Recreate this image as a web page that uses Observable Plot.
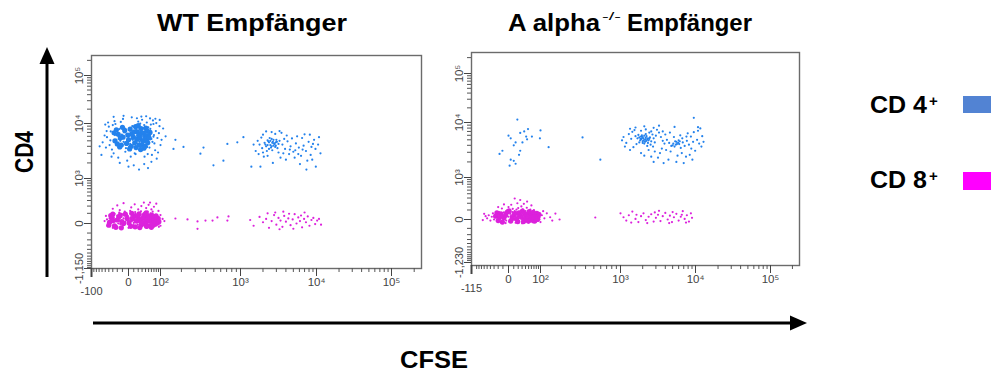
<!DOCTYPE html>
<html><head><meta charset="utf-8">
<script src="https://cdn.jsdelivr.net/npm/d3@7"></script>
<script src="https://cdn.jsdelivr.net/npm/@observablehq/plot@0.6"></script>
<style>
body{margin:0;background:#fff}
#wrap{position:relative;width:991px;height:374px;overflow:hidden;background:#fff;font-family:"Liberation Sans",Arial,sans-serif}
.panel{position:absolute;top:0}
#deco{position:absolute;left:0;top:0}
</style></head><body>
<div id="wrap">
<svg id="deco" width="991" height="374"></svg>
<div id="left" class="panel" style="left:0px"></div>
<div id="right" class="panel" style="left:440px"></div>
</div>
<script>
// ---------- text ----------
const titleWT = "WT Empfänger";
const titleKO = ["A alpha", "-/-", "Empfänger"];
const axisLabelY = "CD4";
const axisLabelX = "CFSE";
const legendLabels = ["CD 4", "CD 8"];
const legendColors = ["#5283D3", "#FF00FF"];
const dotColors = ["#2482EC", "#DC22DC"];

// ---------- ticks ----------
const xMajorTicks = [0, 100, 1000, 10000, 100000];
const xMajorLabels = ["0", "10²", "10³", "10⁴", "10⁵"];
const xMinorTicks = [-90,-80,-70,-60,-50,-40,-30,-20,-10,10,20,30,40,50,60,70,80,90,
  200,300,400,500,600,700,800,900,2000,3000,4000,5000,6000,7000,8000,9000,
  20000,30000,40000,50000,60000,70000,80000,90000,200000];
const yMajorTicks = [0, 1000, 10000, 100000];
const yMajorLabels = ["0", "10³", "10⁴", "10⁵"];
const yMinorTicks = [-1100,-1000,-900,-800,-700,-600,-500,-400,-300,-200,-100,
  100,200,300,400,500,600,700,800,900,2000,3000,4000,5000,6000,7000,8000,9000,
  20000,30000,40000,50000,60000,70000,80000,90000,200000];
const axisMinWT = [-100, -1150];
const axisMinLabelsWT = ["-100", "-1,150"];
const axisMinKO = [-115, -1230];
const axisMinLabelsKO = ["-115", "-1,230"];

// ---------- data: [CFSE, CD4] ----------
const cd4WT = [
[-22,5200],[-15,6100],[-8,4800],[0,5600],[5,7000],[12,5900],[18,4500],[25,6400],[32,5300],[40,6900],[48,5000],[55,6100],
[-20,7400],[-12,4100],[-3,6600],[8,5200],[15,7800],[22,5700],[28,4300],[35,6000],[44,7600],[52,4600],[-18,3900],[-6,8200],
[3,4400],[10,6300],[20,8600],[27,5000],[38,4900],[46,5600],[58,7200],[-25,6300],[-10,5600],[2,7600],[14,4000],[24,6900],
[30,7900],[42,4200],[50,6600],[60,5400],[-16,8000],[-4,3700],[6,6100],[16,5400],[26,3700],[34,8300],[45,3900],[-14,5000],
[-1,4600],[9,8800],[19,6700],[29,6100],[39,5700],[53,3800],[-21,4400],[-7,7000],[4,5300],[13,7200],[23,4800],[33,4600],
[43,6300],[56,8100],[-11,6400],[1,3900],[11,4700],[21,5100],[31,7000],[41,5100],[49,8600],[7,9000],
[-45,5800],[-38,4200],[-35,7300],[-30,9400],[-28,3000],[-33,2600],[-40,8800],[-48,3800],[-52,6200],[-42,10500],
[-26,11200],[-18,2500],[-9,12500],[-2,2200],[6,13500],[14,2900],[20,11000],[30,12000],[37,2600],[44,10500],
[55,12800],[62,2800],[68,9800],[72,4500],[78,7400],[85,5600],[92,6800],[100,4200],[110,8200],[88,3100],
[66,11600],[75,3400],[80,10200],[70,6300],[64,4800],[95,9000],[-36,5100],[-24,9800],[-13,10800],[-5,3200],
[12,3000],[25,10000],[36,9400],[47,2900],[58,9600],[68,5900],[-46,7400],[-32,3500],[4,2600],[17,12900],
[-58,4700],[-68,4000],[-28,13800],[10,1800],[22,1500],[0,1700],[-15,2000],[36,1900],[48,1600],[60,2100],
[82,2400],[-50,9600],[42,14200],[28,14000],[-8,14500],[76,12600],[104,5200],[120,6000],[-62,2800],[96,11900],
[166,5200],[156,3600],[213,3900],[378,3800],[347,2950],[495,1800],[644,2200],[714,4400],[922,4700],[1095,5800],
[2100,4600],[2300,5100],[2500,4200],[2700,4800],[2900,3900],[3200,4400],[2400,3600],[2200,4000],[2600,5400],[2800,4500],
[3000,5200],[2350,4900],[2550,3800],[2750,4100],[3100,3700],[2450,5600],[2650,3400],[2950,4700],[2250,3300],[3300,5000],
[1800,4300],[1950,3700],[1700,5000],[1600,3300],[1400,1700],[1850,1700],[2050,2600],[1750,2900],[1900,5700],[2000,6400],
[3600,4300],[3900,3600],[4200,4900],[4600,4000],[5000,3200],[5400,4500],[5900,3800],[6300,2700],[6800,4100],[7300,3300],
[7900,4800],[8400,2800],[9000,4400],[9700,3600],[10500,4300],[8800,2300],[7600,2200],[6100,1900],[5200,2500],[4400,2900],
[3800,5400],[4100,6200],[3500,6900],[3300,7400],[2900,6600],[2600,7100],[2200,7300],[5600,6000],[6500,5600],[7000,6500],
[8200,6400],[9300,5200],[4800,5500],[4000,2300],[3400,2500],[2700,2000],[2300,2700],[3700,3000],[5800,2900],[7400,1500],
[9800,1700],[6600,3500],[3200,3100],[8600,3900],[4500,3500],[5300,3400],[2000,3100],[1500,4300],[10800,5800],[11300,3000],
[2150,4300],[2400,4700],[2600,4000],[2850,4400],[2500,5000],[2750,5200],[2300,4200],[2950,4100],[2650,4600],[3050,4800]
];
const cd4WTDense = [
[-25,5000],[-18,6500],[-12,4200],[-6,7600],[0,5200],[6,6600],[12,4600],[18,7200],[24,5600],[30,4300],[36,6800],[42,5100],[48,6200],
[-22,7800],[-15,3900],[-9,5800],[-3,4500],[3,8000],[9,5800],[15,3800],[21,6200],[27,8200],[33,5000],[39,4000],[45,7500],[52,5600],
[-20,4400],[-10,8600],[-1,6300],[5,4000],[11,7200],[17,5300],[23,4200],[29,6900],[35,3700],[41,8300],[47,4600],[-14,5600],
[2,3600],[14,8800],[26,3500],[38,5900],[55,7000],[-27,6900],[20,9200]
];
const cd8WT = [
[-35,30],[-30,10],[-28,55],[-25,-15],[-22,40],[-20,75],[-18,0],[-15,25],[-12,60],[-10,-25],[-8,45],[-5,15],[-3,85],[0,35],
[2,-10],[4,55],[6,20],[8,70],[10,5],[12,40],[14,95],[16,-20],[18,30],[20,60],[22,10],[24,45],[26,80],[28,-5],[30,25],
[32,55],[34,15],[36,70],[38,-15],[40,40],[42,20],[44,60],[46,0],[48,35],[50,75],[52,10],[55,45],[58,-10],[60,30],[63,55],
[66,15],[70,40],[74,-5],[78,25],[82,50],[86,10],
[-33,60],[-27,-30],[-24,20],[-19,45],[-14,-5],[-11,90],[-7,5],[-4,50],[-1,70],[1,20],[3,-30],[5,90],[7,40],[9,-15],
[11,65],[13,15],[15,50],[17,80],[19,-10],[21,35],[23,100],[25,20],[27,55],[29,-25],[31,80],[33,40],[35,-5],[37,25],
[39,90],[41,5],[43,45],[45,-20],[47,65],[49,15],[51,50],[53,-30],[56,25],[59,70],[62,0],[65,35],[68,65],[72,15],[76,45],
[80,-15],[84,30],[90,20],[95,45],[-38,45],[-40,15],[-42,-10],[-45,35],
[-16,110],[-6,120],[3,130],[13,115],[27,125],[37,105],[47,120],[57,100],[-26,95],[-30,-40],[0,-40],[20,-38],[44,-42],
[62,-35],[-12,-38],
[-30,160],[-20,210],[-8,250],[5,180],[12,230],[20,150],[28,200],[35,260],[42,170],[50,220],[60,150],[70,190],[80,240],
[-15,140],[55,260],[65,120],[90,130],[100,80],[108,40],[-48,70],[-52,20],[115,20],[100,-20],[-44,-20],[92,-30],
[166,44],[240,35],[320,17],[320,-51],[399,25],[483,25],[550,55],[714,25],[735,65],
[1350,30],[1500,-20],[1800,60],[2000,10],[2200,40],[2400,-40],[2600,20],[2800,80],[3000,-10],[3200,50],[3400,25],
[3600,-30],[3800,70],[4000,15],[4300,45],[4600,-15],[4900,35],[5200,90],[5500,0],[5800,55],[6100,20],[6500,-35],
[6900,40],[7300,10],[7700,65],[8100,-20],[8600,30],[9100,50],[9600,-5],[10200,25],[10800,40],[11500,-10],[2900,110],
[3700,120],[4400,95],[2300,100],[7000,110],[5000,-50],[3300,-55],[6300,75]
];
const cd8WTDense = [
[-38,10],[-32,50],[-26,-20],[-20,30],[-14,80],[-8,0],[-2,45],[4,-25],[10,70],[16,20],[22,95],[28,-10],[34,55],[40,15],
[46,75],[52,-20],[58,40],[64,10],[70,60],[76,-5],[82,30],[88,45],
[-35,75],[-29,25],[-23,-35],[-17,60],[-11,15],[-5,90],[1,5],[7,40],[13,-30],[19,65],[25,35],[31,0],[37,85],[43,-25],
[49,50],[55,20],[61,80],[67,-15],[73,35],[79,70],[85,5],
[-40,-15],[-30,90],[-12,-40],[6,100],[24,-38],[42,105],[60,-35],[92,15]
];
const cd4KO = [
[18,11500],[25,6600],[36,7000],[48,7700],[42,5700],[0,5900],[4,5300],[10,4000],[14,4500],[25,3200],[22,2700],
[-11,3200],[-17,2800],[4,2200],[10,2100],[14,1850],[2,1700],[97,5300],[133,3700],[45,5100],[62,5700],[100,7300],
[31,4500],[368,5500],[594,2200],
[1700,5300],[1850,4900],[2000,5600],[2150,4600],[2300,5100],[1950,6000],[2100,4300],[2250,5800],[1800,4500],[2400,4900],
[2050,5300],[1900,5700],[2200,6300],[2350,4400],[1750,6100],[2500,5500],[2600,4700],[2150,5000],[2000,4700],[1880,5200],
[2700,6200],[2800,5300],[2450,6700],[2900,4500],[3000,5900],[2550,4100],[1650,4200],[1600,5800],[2300,3900],[2750,3800],
[1400,5200],[1300,6300],[1200,4400],[1100,5600],[1050,4900],[1500,3700],[1450,6900],[1350,3300],[1550,7400],[1900,7200],
[2200,7600],[2600,7000],[3100,7500],[3300,6700],[3500,5600],[3700,4800],[3900,4300],[4200,5000],[4500,4400],[4800,3900],
[5100,4300],[5400,4700],[5000,4000],[5300,3800],[5700,4200],[6000,4900],[6400,3600],[6800,4500],[7200,3900],[7700,4800],
[8200,4100],[8800,3500],[9300,4600],[9900,3200],[10500,5000],[11200,4300],[12000,3800],[4700,3100],[4100,3300],[3600,3500],
[3400,2900],[2900,3100],[2400,3300],[2100,2600],[2600,2500],[1900,2900],[3200,2400],[4400,2200],[5800,2600],[6600,2900],
[7500,2500],[8400,2700],[9100,2200],[7000,1900],[5600,2000],[3800,1900],[2800,2000],[8700,5700],[7900,6500],[9500,6800],
[10800,7200],[11600,7900],[6300,6000],[5200,5600],[4000,6200],[4600,6700],[3700,7000],[2800,8100],[1600,8200],[1350,7800],
[9500,12500],[10800,8300],[5300,8400],[3300,8800],[2100,8600],[1150,3800],[12300,5800],[12800,4600],[6700,5300],[7600,5700],
[1900,5100],[2050,4900],[2200,5400],[2100,5900],[1800,5500],[2350,5300],[2000,4400],[2250,4800],[1950,5300],[2450,5200],
[5600,4600],[5900,4400],[6200,4700],[5500,4100],[6100,4200]
];
const cd8KO = [
[-25,20],[-20,50],[-16,5],[-12,35],[-8,70],[-4,-10],[0,25],[3,55],[6,10],[9,40],[12,85],[15,-5],[18,30],[21,60],[24,15],
[27,45],[30,90],[33,0],[36,35],[39,65],[42,20],[45,50],[48,-15],[51,30],[54,70],[57,10],[60,40],[64,25],[68,55],[72,5],
[76,35],[80,15],[85,45],[90,20],[95,0],
[-22,-15],[-18,75],[-14,-25],[-10,15],[-6,50],[-2,95],[1,-20],[4,30],[7,75],[10,0],[13,50],[16,105],[19,-15],[22,40],
[25,80],[28,5],[31,55],[34,-25],[37,15],[40,85],[43,-5],[46,35],[49,75],[52,0],[55,45],[58,-20],[62,60],[66,10],[70,35],
[74,-10],[78,60],[83,30],[88,50],[93,25],
[-28,40],[-30,0],[-33,60],[-36,25],[-40,-10],[-45,40],[-50,10],[-55,30],[-60,55],[-65,-5],
[-12,120],[0,140],[8,115],[20,125],[32,110],[44,130],[56,105],[70,100],[-5,-35],[14,-32],[30,-38],[50,-30],[66,-28],
[5,175],[18,200],[25,260],[35,190],[12,290],[45,230],[-8,180],[60,165],[28,150],[-20,140],
[105,40],[115,10],[125,60],[140,20],[166,58],[189,0],[150,-10],[520,18],[100,-25],[110,85],
[1000,60],[1100,20],[1200,-10],[1300,40],[1450,80],[1600,5],[1750,-25],[1900,30],[2050,60],[2200,-5],[2400,25],
[2600,50],[2800,-20],[3000,15],[3200,45],[3450,-15],[3700,30],[4000,65],[4300,0],[4600,35],[4900,-25],[5200,20],
[5600,55],[6000,-10],[6400,25],[6800,85],[7200,5],[7700,40],[8200,-20],[8700,60],[9000,15],[1650,45],[2300,-35],
[3300,90],[5000,75],[6600,45],[7500,-30],[1400,-30],[2900,70],[4500,-35]
];
const cd8KODense = [
[-26,30],[-20,-10],[-14,55],[-8,15],[-2,75],[4,-15],[10,40],[16,5],[22,65],[28,25],[34,-20],[40,50],[46,10],[52,80],
[58,30],[64,-5],[70,45],[76,15],[82,60],[88,25],
[-23,65],[-17,20],[-11,-25],[-5,40],[1,90],[7,10],[13,60],[19,-20],[25,35],[31,85],[37,0],[43,30],[49,-15],[55,55],
[61,20],[67,70],[73,-15],[79,40],[85,0],[92,50]
];

// ---------- panels ----------
const xLab = new Map(xMajorTicks.map((t, i) => [t, xMajorLabels[i]]));
const yLab = new Map(yMajorTicks.map((t, i) => [t, yMajorLabels[i]]));

function panel(cd4, cd4Dense, cd8, cd8Dense, mins, minLabels, g) {
  return Plot.plot({
    width: g.w, height: g.h,
    marginLeft: g.ml, marginRight: g.mr, marginTop: g.mt, marginBottom: g.mb,
    style: {background: "transparent", fontFamily: "'Liberation Sans', Arial, sans-serif", fontSize: "11px", color: "#444"},
    x: {type: "symlog", constant: 52, domain: g.xDomain, range: g.xRange},
    y: {type: "symlog", constant: 200, domain: g.yDomain, range: g.yRange},
    marks: [
      Plot.frame({stroke: "#6b6b6b", strokeWidth: 1.4}),
      Plot.axisX(xMinorTicks, {tickSize: 4, tickFormat: () => "", label: null, color: "#555"}),
      Plot.axisX(xMajorTicks, {tickSize: 8, tickPadding: 1, fontSize: 11.5, tickFormat: d => xLab.get(d), label: null, color: "#444"}),
      Plot.axisX([mins[0]], {tickSize: 9, strokeWidth: 2, tickPadding: 10, fontSize: 11, tickFormat: () => minLabels[0], label: null, color: "#444"}),
      Plot.axisY(yMinorTicks, {tickSize: 4, tickFormat: () => "", label: null, color: "#555"}),
      Plot.axisY(yMajorTicks, {tickSize: 7, tickRotate: -90, tickPadding: 2, fontSize: 11.5, tickFormat: d => yLab.get(d), label: null, color: "#444"}),
      Plot.axisY([mins[1]], {tickSize: 7, tickRotate: -90, tickPadding: 2, fontSize: 11, tickFormat: () => minLabels[1], label: null, color: "#444"}),
      Plot.dot(cd8Dense, {x: d => d[0], y: d => d[1], r: 2.6, fill: dotColors[1]}),
      Plot.dot(cd8, {x: d => d[0], y: d => d[1], r: 1.1, fill: dotColors[1]}),
      Plot.dot(cd4Dense, {x: d => d[0], y: d => d[1], r: 2.6, fill: dotColors[0]}),
      Plot.dot(cd4, {x: d => d[0], y: d => d[1], r: 1.1, fill: dotColors[0]})
    ]
  });
}

document.getElementById("left").append(panel(cd4WT, cd4WTDense, cd8WT, cd8WTDense, axisMinWT, axisMinLabelsWT, {
  w: 440, h: 302, ml: 91, mr: 19, mt: 55, mb: 34,
  xDomain: [-100, 0, 100, 1000, 10000, 100000, 250000], xRange: [91, 128, 160, 240, 316, 391, 421],
  yDomain: [-1150, 0, 1000, 10000, 100000, 250000], yRange: [268, 223, 178, 123, 75, 55]
}));
document.getElementById("right").append(panel(cd4KO, [], cd8KO, cd8KODense, axisMinKO, axisMinLabelsKO, {
  w: 380, h: 300, ml: 31, mr: 21, mt: 52, mb: 35,
  xDomain: [-115, 0, 100, 1000, 10000, 100000, 250000], xRange: [31, 68, 100, 180, 255, 330, 359],
  yDomain: [-1230, 0, 1000, 10000, 100000, 250000], yRange: [262, 219, 177, 122, 73, 52]
}));

// ---------- decorations ----------
const deco = document.getElementById("deco");
deco.innerHTML = `
<g font-family="'Liberation Sans', Arial, sans-serif" font-weight="bold" fill="#000">
  <text x="157" y="31" font-size="23" textLength="190" lengthAdjust="spacingAndGlyphs">${titleWT}</text>
  <text x="508" y="31" font-size="23" textLength="92" lengthAdjust="spacingAndGlyphs">${titleKO[0]}</text>
  <text x="602" y="20" font-size="11" font-weight="normal" textLength="19" lengthAdjust="spacingAndGlyphs">${titleKO[1]}</text>
  <text x="627" y="31" font-size="23" textLength="125" lengthAdjust="spacingAndGlyphs">${titleKO[2]}</text>
  <text transform="translate(33,152) rotate(-90)" text-anchor="middle" font-size="25" textLength="42" lengthAdjust="spacingAndGlyphs">${axisLabelY}</text>
  <text x="434" y="368" text-anchor="middle" font-size="24" textLength="68" lengthAdjust="spacingAndGlyphs">${axisLabelX}</text>
  <text x="870" y="113" font-size="23" textLength="57" lengthAdjust="spacingAndGlyphs">${legendLabels[0]}</text>
  <text x="929" y="106" font-size="15">+</text>
  <text x="870" y="188" font-size="23" textLength="57" lengthAdjust="spacingAndGlyphs">${legendLabels[1]}</text>
  <text x="929" y="181" font-size="15">+</text>
</g>
<rect x="963" y="96" width="30" height="17" fill="${legendColors[0]}"/>
<rect x="963" y="172" width="30" height="18" fill="${legendColors[1]}"/>
<line x1="47" y1="277" x2="47" y2="62" stroke="#000" stroke-width="3"/>
<polygon points="47,47 39.5,64 54.5,64" fill="#000"/>
<line x1="93" y1="323" x2="792" y2="323" stroke="#000" stroke-width="3"/>
<polygon points="807,323 790,315.5 790,330.5" fill="#000"/>
`;
</script>
</body></html>
